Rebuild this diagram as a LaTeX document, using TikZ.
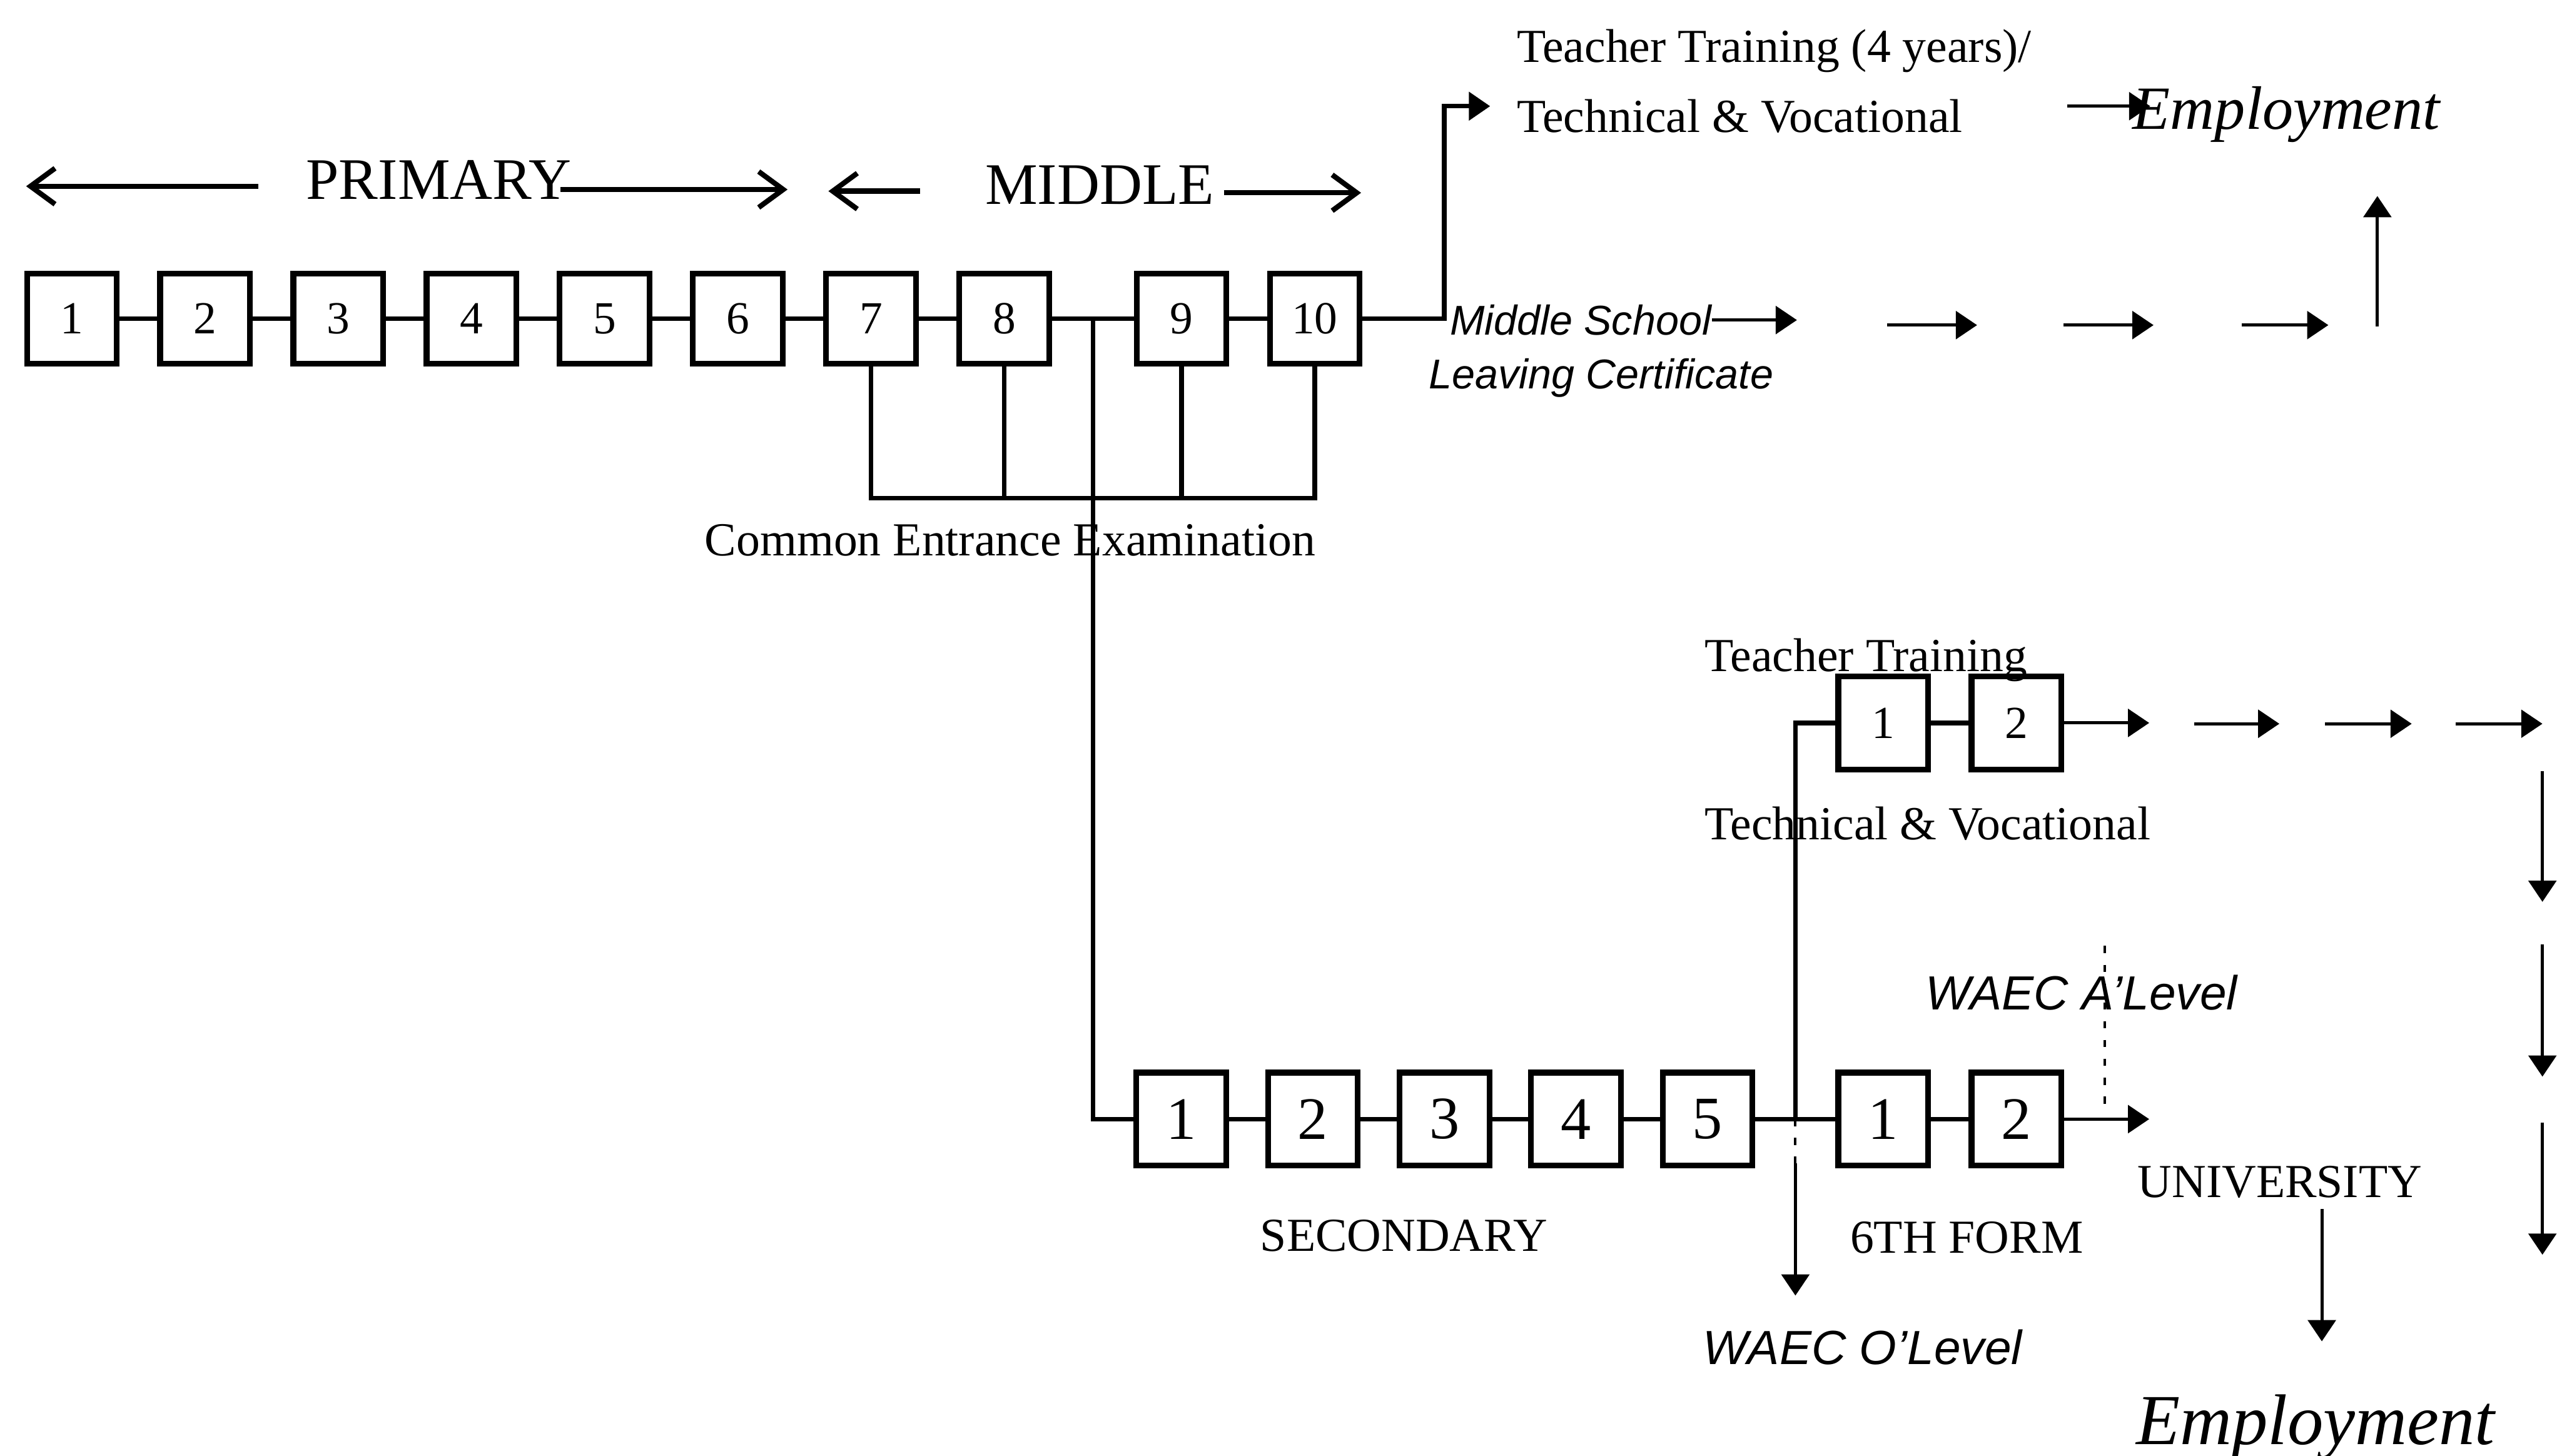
\documentclass[tikz,border=0pt]{standalone}
\usepackage{fontspec}
\setmainfont{Liberation Serif}
\setsansfont{Liberation Sans}
\usetikzlibrary{arrows.meta, positioning}

\begin{document}
\begin{tikzpicture}[
  yearbox/.style={rectangle, draw, line width=2pt, minimum width=1.1cm,
    minimum height=1.1cm, inner sep=0pt, font=\fontsize{16}{16}\selectfont},
  formbox/.style={yearbox, minimum height=1.14cm, font=\fontsize{21}{21}\selectfont},
  ttbox/.style={yearbox, minimum height=1.14cm},
  link/.style={line width=1.6pt},
  arr/.style={-{Triangle[length=0.26cm, width=0.34cm]}, line width=1.1pt},
  stagearrow/.style={-{Straight Barb[length=0.3cm, width=0.44cm]}, line width=1.8pt},
  dotline/.style={line width=0.9pt, dash pattern=on 0.09cm off 0.14cm},
  txt/.style={inner sep=0pt, font=\fontsize{16.5}{18}\selectfont},
  stagetxt/.style={inner sep=0pt, font=\fontsize{20.5}{22}\selectfont},
  cert/.style={inner sep=0pt, font=\sffamily\itshape\fontsize{14.5}{16}\selectfont},
  exam/.style={inner sep=0pt, font=\sffamily\itshape\fontsize{16.7}{18}\selectfont},
  job/.style={inner sep=0pt, font=\itshape\fontsize{21.4}{23}\selectfont},
  node distance=0.46cm,
]
  \useasboundingbox (0,0) rectangle (31.36,-17.82);

  % Primary + middle years
  \node[yearbox] (b1) at (0.88,-3.90) {1};
  \node[yearbox, right=of b1] (b2) {2};
  \node[yearbox, right=of b2] (b3) {3};
  \node[yearbox, right=of b3] (b4) {4};
  \node[yearbox, right=of b4] (b5) {5};
  \node[yearbox, right=of b5] (b6) {6};
  \node[yearbox, right=of b6] (b7) {7};
  \node[yearbox, right=of b7] (b8) {8};
  \node[yearbox, right=1.0cm of b8] (b9) {9};
  \node[yearbox, right=of b9] (b10) {10};

  \draw[link] (b1) -- (b2) -- (b3) -- (b4) -- (b5) -- (b6) -- (b7) -- (b8)
    -- coordinate (cj) (b9) -- (b10);

  \node[stagetxt, anchor=base] (prim) at (5.37,-2.44) {PRIMARY};
  \node[stagetxt, anchor=base] (mid) at (13.46,-2.50) {MIDDLE};
  \draw[stagearrow] (3.16,-2.28) -- (0.32,-2.28);
  \draw[stagearrow] (6.86,-2.32) -- (9.64,-2.32);
  \draw[stagearrow] (11.26,-2.34) -- (10.14,-2.34);
  \draw[stagearrow] (14.98,-2.36) -- (16.66,-2.36);

  % Common Entrance
  \coordinate (cee) at (0,-6.10);
  \node[txt, anchor=base west] (cex) at (8.62,-6.80) {Common Entrance Examination};
  \draw[link] (b7.south) -- (b7 |- cee) -- (b10 |- cee) -- (b10.south);
  \draw[link] (b8.south) -- (b8 |- cee);
  \draw[link] (b9.south) -- (b9 |- cee);

  % after middle school
  \coordinate (tvin) at (18.24,-1.30);
  \node[txt, anchor=base west] (tt4) at (18.56,-0.76) {Teacher Training (4 years)/};
  \node[txt, anchor=base west] (tv1) at (18.56,-1.62) {Technical \& Vocational};
  \node[job, anchor=base west] (emp1) at (26.10,-1.58) {Employment};
  \draw[link, -{Triangle[length=0.26cm, width=0.34cm]}] (b10.east) -- ++(1.0,0) |- (tvin);
  \draw[arr] (25.30,-1.30) -- (26.32,-1.30);

  \node[cert, anchor=base west] (msc) at (17.74,-4.10) {Middle School};
  \node[cert, anchor=base west] (lvc) at (17.48,-4.76) {Leaving Certificate};
  \draw[arr] (msc.east) -- ++(1.04,0);
  \draw[arr] (23.10,-3.98) -- (24.20,-3.98);
  \draw[arr] (25.26,-3.98) -- (26.36,-3.98);
  \draw[arr] (27.44,-3.98) -- (28.50,-3.98);
  \draw[arr] (29.10,-4.00) -- (29.10,-2.40);

  % Secondary + 6th form
  \node[formbox] (s1) at (14.46,-13.70) {1};
  \node[formbox, right=0.44cm of s1] (s2) {2};
  \node[formbox, right=0.44cm of s2] (s3) {3};
  \node[formbox, right=0.44cm of s3] (s4) {4};
  \node[formbox, right=0.44cm of s4] (s5) {5};
  \node[formbox, right=0.98cm of s5] (f1) {1};
  \node[formbox, right=of f1] (f2) {2};

  \draw[link] (cj) |- (s1.west);
  \draw[link] (s1) -- (s2) -- (s3) -- (s4) -- (s5) -- coordinate (sj) (f1) -- (f2);

  \node[txt, anchor=base west] (sec) at (15.42,-15.32) {SECONDARY};
  \node[txt, anchor=base west] (sixth) at (22.64,-15.34) {6TH FORM};

  % Teacher training after secondary
  \node[ttbox, above=3.64cm of f1] (t1) {1};
  \node[ttbox, right=of t1] (t2) {2};
  \draw[link] (sj) |- (t1.west);
  \draw[link] (t1) -- (t2);
  \node[txt, anchor=base west] (tt2) at (20.86,-8.22) {Teacher Training};
  \node[txt, anchor=base west] (tv2) at (20.86,-10.28) {Technical \& Vocational};

  \draw[arr] (t2.east) -- ++(1.04,0);
  \draw[arr] (26.86,-8.86) -- (27.90,-8.86);
  \draw[arr] (28.46,-8.86) -- (29.52,-8.86);
  \draw[arr] (30.06,-8.86) -- (31.12,-8.86);
  \draw[arr] (31.12,-9.44) -- (31.12,-11.04);
  \draw[arr] (31.12,-11.56) -- (31.12,-13.18);
  \draw[arr] (31.12,-13.74) -- (31.12,-15.36);

  % WAEC exits
  \draw[dotline] (sj) -- (sj |- 0,-14.24);
  \draw[arr] (sj |- 0,-14.24) -- (sj |- 0,-15.86);
  \node[exam, anchor=base west] (wol) at (20.84,-16.70) {WAEC O'Level};

  \node[exam, anchor=base west] (wal) at (23.56,-12.36) {WAEC A'Level};
  \draw[dotline] (25.76,-11.58) -- (25.76,-13.58);

  % University
  \draw[arr] (f2.east) -- ++(1.04,0);
  \node[txt, anchor=base west] (uni) at (26.16,-14.66) {UNIVERSITY};
  \draw[arr] (28.42,-14.80) -- (28.42,-16.42);
  \node[job, font=\itshape\fontsize{25}{27}\selectfont, anchor=base west] (emp2) at (26.14,-17.68) {Employment};
\end{tikzpicture}
\end{document}
